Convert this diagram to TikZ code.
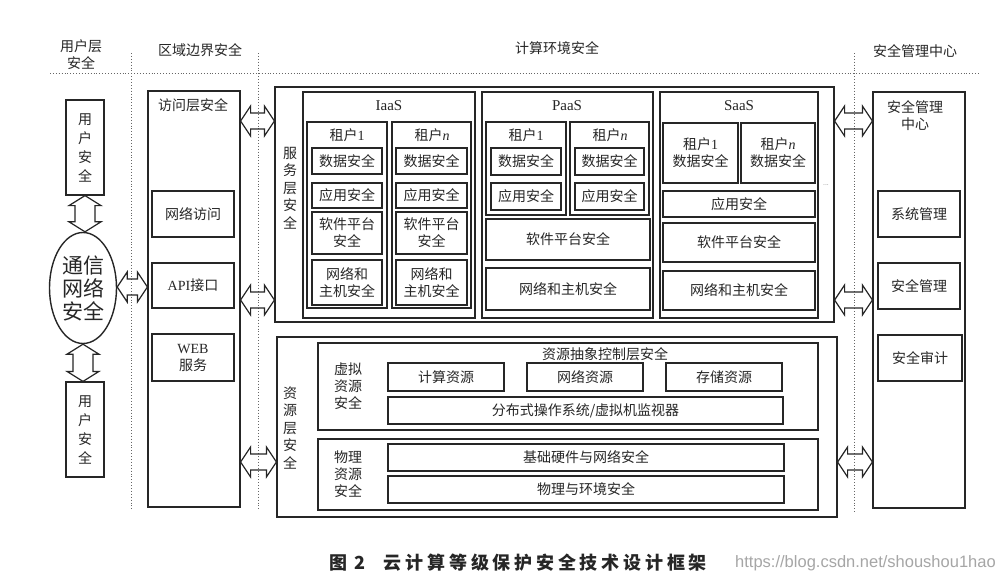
\documentclass[tikz,border=0pt]{standalone}
\usepackage{fontspec}
\setmainfont{Noto Sans CJK SC}
\newfontfamily\lat{Liberation Serif}
\newfontfamily\wm{Liberation Sans}
\newfontfamily\capf[LetterSpace=21]{Noto Sans CJK SC}
\usetikzlibrary{calc,shapes.geometric}
\tikzset{
  box/.style={draw=black!85, line width=1.2pt, inner sep=0pt, align=center,
    font=\fontsize{14}{17}\selectfont, text=black!85},
  ibox/.style={box, line width=1.6pt},
  vbox/.style={box, font=\fontsize{14}{19}\selectfont},
  lbl/.style={inner sep=0pt, align=center, font=\fontsize{14}{17}\selectfont, text=black!85},
  vlbl/.style={lbl, font=\fontsize{14}{17.5}\selectfont},
  dots/.style={draw=black!60, line width=0.9pt, dotted},
  arr/.style={draw=black!85, line width=1.2pt, line join=miter},
}
\newcommand\bx[7][box]{\node[#1, minimum width={#4-#2}, minimum height={#5-#3}] (#6) at ({(#2+#4)/2},{(#3+#5)/2}) {#7};}
\newcommand\harr[3]{%
  \coordinate (L) at (#1.east |- 0,#3);
  \coordinate (R) at (#2.west |- 0,#3);
  \path[arr] (L) -- ($(L)+(10,-15)$) -- ($(L)+(10,-8)$) -- ($(R)+(-10,-8)$) -- ($(R)+(-10,-15)$) -- (R)
    -- ($(R)+(-10,15)$) -- ($(R)+(-10,8)$) -- ($(L)+(10,8)$) -- ($(L)+(10,15)$) -- cycle;}
\newcommand\varr[2]{%
  \coordinate (T) at (#1.south);
  \coordinate (B) at (#2.north -| T);
  \path[arr] (T) -- ($(T)+(16,10)$) -- ($(T)+(10,10)$) -- ($(B)+(10,-10)$) -- ($(B)+(16,-10)$) -- (B)
    -- ($(B)+(-16,-10)$) -- ($(B)+(-10,-10)$) -- ($(T)+(-10,10)$) -- ($(T)+(-16,10)$) -- cycle;}
\begin{document}
\begin{tikzpicture}[x=1pt,y=-1pt]
\fill[white] (0,0) rectangle (1004,576);
\useasboundingbox (0,0) rectangle (1004,576);

% dividers
\draw[dots] (50,73) -- (980,73);
\draw[dots] (131,53) -- (131,510);
\draw[dots] (258,53) -- (258,510);
\draw[dots] (854,53) -- (854,512);

% headers
\node[lbl] (h1) at (81,55) {用户层\\安全};
\node[lbl] (h2) at (200,50) {区域边界安全};
\node[lbl] (h3) at (557,48) {计算环境安全};
\node[lbl] (h4) at (915,51) {安全管理中心};

% user layer
\bx[vbox]{66}{100}{104}{195}{u1}{用\\户\\安\\全}
\bx[vbox]{66}{382}{104}{477}{u2}{用\\户\\安\\全}
\node[draw=black!85, line width=1.4pt, ellipse, minimum width=67, minimum height=111,
  inner sep=0pt, align=center, text=black!85, font=\fontsize{21}{23}\selectfont] (comm) at (83,288) {通信\\网络\\安全};

% boundary
\bx{148}{91}{240}{507}{acc}{}
\node[lbl] (acclbl) at (193,105) {访问层安全};
\bx[ibox]{152}{191}{234}{237}{nacc}{网络访问}
\bx[ibox]{152}{263}{234}{308}{api}{{\lat API}接口}
\bx[ibox]{152}{334}{234}{381}{web}{{\lat WEB}\\服务}

% service layer
\bx{275}{87}{834}{322}{svc}{}
\node[vlbl] (svclbl) at (290,188) {服\\务\\层\\安\\全};
\bx{303}{92}{475}{318}{iaas}{}
\bx{482}{92}{653}{318}{paas}{}
\bx{660}{92}{818}{318}{saas}{}
\node[lbl, font=\lat\fontsize{15}{17}\selectfont] (iaaslbl) at (389,106) {IaaS};
\node[lbl, font=\lat\fontsize{15}{17}\selectfont] (paaslbl) at (567,106) {PaaS};
\node[lbl, font=\lat\fontsize{15}{17}\selectfont] (saaslbl) at (739,106) {SaaS};

% IaaS
\bx{307}{122}{387}{308}{it1}{}
\bx{392}{122}{471}{308}{itn}{}
\node[lbl] at (347,135) {租户{\lat 1}};
\node[lbl] at (432,135) {租户{\lat\itshape n}};
\bx[ibox]{312}{148}{382}{174}{it1d}{数据安全}
\bx[ibox]{312}{183}{382}{208}{it1a}{应用安全}
\bx[ibox]{312}{212}{382}{254}{it1s}{软件平台\\安全}
\bx[ibox]{312}{260}{382}{305}{it1n}{网络和\\主机安全}
\bx[ibox]{396}{148}{467}{174}{itnd}{数据安全}
\bx[ibox]{396}{183}{467}{208}{itna}{应用安全}
\bx[ibox]{396}{212}{467}{254}{itns}{软件平台\\安全}
\bx[ibox]{396}{260}{467}{305}{itnn}{网络和\\主机安全}

% PaaS
\bx{486}{122}{566}{215}{pt1}{}
\bx{570}{122}{649}{215}{ptn}{}
\node[lbl] at (526,135) {租户{\lat 1}};
\node[lbl] at (610,135) {租户{\lat\itshape n}};
\bx[ibox]{491}{148}{561}{175}{pt1d}{数据安全}
\bx[ibox]{491}{183}{561}{210}{pt1a}{应用安全}
\bx[ibox]{575}{148}{644}{175}{ptnd}{数据安全}
\bx[ibox]{575}{183}{644}{210}{ptna}{应用安全}
\bx[ibox]{486}{219}{650}{260}{psw}{软件平台安全}
\bx[ibox]{486}{268}{650}{310}{pnet}{网络和主机安全}

% SaaS
\bx[ibox]{663}{123}{738}{183}{st1}{租户{\lat 1}\\数据安全}
\bx[ibox]{741}{123}{815}{183}{stn}{租户{\lat\itshape n}\\数据安全}
\bx[ibox]{663}{191}{815}{217}{sapp}{应用安全}
\bx[ibox]{663}{223}{815}{262}{ssw}{软件平台安全}
\bx[ibox]{663}{271}{815}{310}{snet}{网络和主机安全}
\node[lbl, font=\fontsize{7}{8}\selectfont, text=black!50] (ell) at (826,185) {...};

% resource layer
\bx{277}{337}{837}{517}{res}{}
\node[vlbl] (reslbl) at (290,428) {资\\源\\层\\安\\全};
\bx{318}{343}{818}{430}{virt}{}
\node[lbl] (virtt) at (605,354) {资源抽象控制层安全};
\node[lbl] (virtl) at (348,386) {虚拟\\资源\\安全};
\bx[ibox]{388}{363}{504}{391}{comp}{计算资源}
\bx[ibox]{527}{363}{643}{391}{netr}{网络资源}
\bx[ibox]{666}{363}{782}{391}{stor}{存储资源}
\bx[ibox]{388}{397}{783}{424}{dist}{分布式操作系统/虚拟机监视器}
\bx{318}{439}{818}{510}{phys}{}
\node[lbl] (physl) at (348,474) {物理\\资源\\安全};
\bx[ibox]{388}{444}{784}{471}{hw}{基础硬件与网络安全}
\bx[ibox]{388}{476}{784}{503}{env}{物理与环境安全}

% management centre
\bx{873}{92}{965}{508}{mgmt}{}
\node[lbl] (mgmtl) at (915,116) {安全管理\\中心};
\bx[ibox]{878}{191}{960}{237}{sys}{系统管理}
\bx[ibox]{878}{263}{960}{309}{secm}{安全管理}
\bx[ibox]{878}{335}{962}{381}{aud}{安全审计}

% arrows
\varr{u1}{comm}
\varr{comm}{u2}
\harr{comm}{acc}{287}
\harr{acc}{svc}{121}
\harr{acc}{svc}{300}
\harr{acc}{res}{462}
\harr{svc}{mgmt}{121}
\harr{svc}{mgmt}{300}
\harr{res}{mgmt}{462}

% caption
\node[inner sep=0pt, text=black!85, font=\capf\bfseries\fontsize{18}{20}\selectfont] (cap) at (518,563) {图 2\quad 云计算等级保护安全技术设计框架};
\node[inner sep=0pt, anchor=west, text=black!35, font=\wm\fontsize{16.5}{18}\selectfont] (wmk) at (735,563) {https://blog.csdn.net/shoushou1hao};
\end{tikzpicture}
\end{document}
